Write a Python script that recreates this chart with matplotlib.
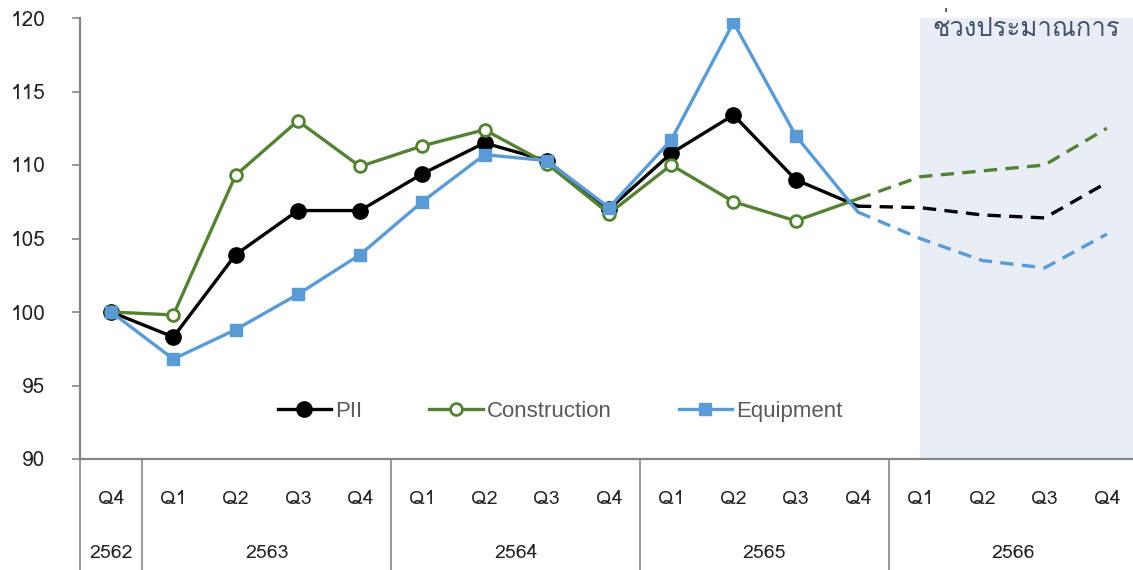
import matplotlib
matplotlib.use("Agg")
import matplotlib.pyplot as plt
import matplotlib.transforms as mtransforms
from matplotlib import font_manager, ft2font

quarters = ['Q4', 'Q1', 'Q2', 'Q3', 'Q4', 'Q1', 'Q2', 'Q3', 'Q4',
            'Q1', 'Q2', 'Q3', 'Q4', 'Q1', 'Q2', 'Q3', 'Q4']
years = ['2562', '2563', '2564', '2565', '2566']
year_len = [1, 4, 4, 4, 4]
pii = [100, 98.3, 103.9, 106.9, 106.9, 109.4, 111.5, 110.3, 107.0,
       110.8, 113.4, 109.0, 107.2, 107.1, 106.6, 106.4, 108.8]
construction = [100, 99.8, 109.3, 113.0, 109.9, 111.3, 112.4, 110.1, 106.7,
                110.0, 107.5, 106.2, 107.7, 109.2, 109.6, 110.0, 112.5]
equipment = [100, 96.8, 98.8, 101.2, 103.9, 107.5, 110.7, 110.3, 107.1,
             111.7, 119.7, 112.0, 106.8, 105.0, 103.5, 103.0, 105.3]
last_actual = 12
forecast_label = 'ช่วงประมาณการ'

# find some installed font that has Thai glyphs
thai_font = 'DejaVu Sans'
for f in font_manager.fontManager.ttflist:
    try:
        if ord('ช') in ft2font.FT2Font(f.fname).get_charmap():
            thai_font = f.name
            break
    except Exception:
        pass
fam = [thai_font, 'DejaVu Sans']

fig = plt.figure(figsize=(11.33, 5.70), dpi=100)
ax = fig.add_axes([80 / 1133, 1 - 459 / 570, 1058 / 1133, 441 / 570])

x = list(range(len(quarters)))
xa = x[:last_actual + 1]
xf = x[last_actual:]

# forecast shading
ax.axvspan(last_actual + 1, len(quarters) - 0.5, color='#E9EDF6', zorder=0, lw=0)
ax.text(0.983, 0.98, forecast_label, transform=ax.transAxes, ha='right', va='center',
        fontsize=18.5, color='#44546A', family=fam)

series = [
    ('PII', pii, '#000000', dict(marker='o', ms=11, mfc='#000000', mec='#000000')),
    ('Construction', construction, '#548235', dict(marker='o', ms=8.5, mfc='white', mec='#548235', mew=2)),
    ('Equipment', equipment, '#5B9BD5', dict(marker='s', ms=8.5, mfc='#5B9BD5', mec='#5B9BD5')),
]
for name, vals, col, mk in series:
    ax.plot(xa, vals[:last_actual + 1], color=col, lw=2.4, label=name,
            markevery=list(range(last_actual)), zorder=3, **mk)
    ax.plot(xf, vals[last_actual:], color=col, lw=2.4, ls=(0, (4, 2.5)), zorder=3)

ax.set_xlim(-0.5, len(quarters) - 0.5)
ax.set_ylim(90, 120)
ax.set_yticks(range(90, 121, 5))

for s in ['top', 'right']:
    ax.spines[s].set_visible(False)
for s in ['left', 'bottom']:
    ax.spines[s].set_color('#868686')
    ax.spines[s].set_linewidth(1.6)

ax.tick_params(axis='y', length=6, width=1.2, color='#868686', labelsize=15,
               labelcolor='#222222', pad=19)
ax.set_xticks(x)
ax.set_xticklabels(quarters)
ax.tick_params(axis='x', length=0, pad=22, labelsize=14, labelcolor='#222222')
for lab in ax.get_xticklabels() + ax.get_yticklabels():
    lab.set_family(fam)

# category axis: group separators and year labels
trans = mtransforms.blended_transform_factory(ax.transData, ax.transAxes)
depth = -(570 - 459) / 441
edges = [-0.5]
for n in year_len:
    edges.append(edges[-1] + n)
for e in edges[:-1]:
    ax.plot([e, e], [0, depth], transform=trans, color='#868686', lw=1.2, clip_on=False)
for i, yr in enumerate(years):
    ax.text((edges[i] + edges[i + 1]) / 2, -(553 - 459) / 441, yr, transform=trans,
            ha='center', va='center', fontsize=14, color='#222222', family=fam)

ax.legend(loc='center', bbox_to_anchor=(0.454, 0.108), ncol=3, frameon=False,
          handlelength=2.4, columnspacing=3.0, handletextpad=0.2,
          prop={'family': 'Liberation Sans', 'size': 16}, labelcolor='#595959')

fig.savefig('out.png', dpi=100)
